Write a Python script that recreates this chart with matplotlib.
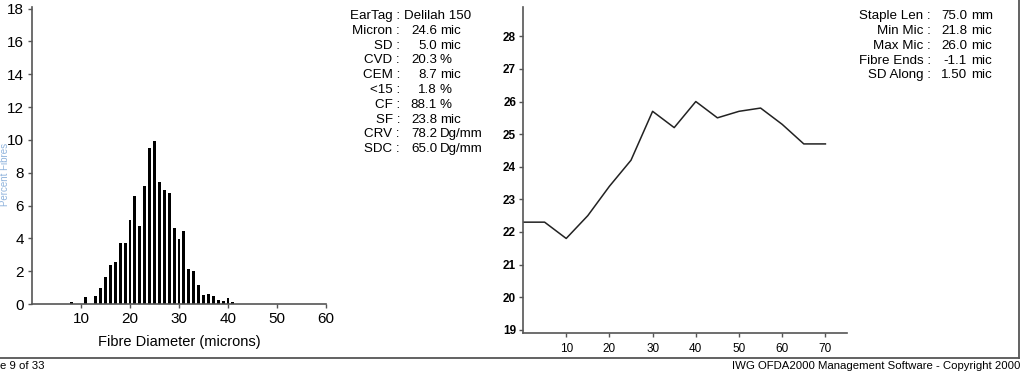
import numpy as np
import matplotlib.pyplot as plt
from matplotlib.lines import Line2D

plt.rcParams['font.family'] = ['Liberation Sans', 'DejaVu Sans']

# fibre diameter histogram (percent of fibres per micron class)
diam_classes = [8, 11, 13, 14, 15, 16, 17, 18, 19, 20, 21, 22, 23, 24, 25,
                26, 27, 28, 29, 30, 31, 32, 33, 34, 35, 36, 37, 38, 39, 40, 41]
diam_percent = [0.14, 0.4, 0.5, 0.95, 1.65, 2.35, 2.55, 3.7, 3.7, 5.1, 6.6,
                4.75, 7.2, 9.5, 9.95, 7.45, 6.95, 6.75, 4.65, 3.95, 4.45,
                2.13, 2.0, 1.18, 0.53, 0.6, 0.5, 0.27, 0.16, 0.38, 0.14]

# diameter along the staple (mm vs micron)
along_mm = [0, 5, 10, 15, 20, 25, 30, 35, 40, 45, 50, 55, 60, 65, 70]
along_mic = [22.3, 22.3, 21.8, 22.5, 23.4, 24.2, 25.7, 25.2, 26.0, 25.5,
             25.7, 25.8, 25.3, 24.7, 24.7]

left_stats = [("EarTag", "Delilah 150", ""),
              ("Micron", "24.6", "mic"),
              ("SD", "5.0", "mic"),
              ("CVD", "20.3", "%"),
              ("CEM", "8.7", "mic"),
              ("<15", "1.8", "%"),
              ("CF", "88.1", "%"),
              ("SF", "23.8", "mic"),
              ("CRV", "78.2", "Dg/mm"),
              ("SDC", "65.0", "Dg/mm")]

right_stats = [("Staple Len", "75.0", "mm"),
               ("Min Mic", "21.8", "mic"),
               ("Max Mic", "26.0", "mic"),
               ("Fibre Ends", "-1.1", "mic"),
               ("SD Along", "1.50", "mic")]

W, H = 1024, 388
fig = plt.figure(figsize=(W / 100, H / 100), dpi=100)

def px(x0, y0, x1, y1):
    # pixel box -> figure fraction rect
    return [x0 / W, 1 - y1 / H, (x1 - x0) / W, (y1 - y0) / H]

spine_col = '#555555'

def style_axes(ax):
    for s in ['top', 'right']:
        ax.spines[s].set_visible(False)
    for s in ['left', 'bottom']:
        ax.spines[s].set_color(spine_col)
        ax.spines[s].set_linewidth(1.2)
    ax.tick_params(direction='out', length=3, width=1, color=spine_col)

# histogram
ax1 = fig.add_axes(px(32, 7, 326, 304))
ax1.bar(diam_classes, diam_percent, width=0.6, color='black')
ax1.set_xlim(0, 60)
ax1.set_ylim(0, 18.1)
ax1.set_xticks([10, 20, 30, 40, 50, 60])
ax1.set_yticks(range(0, 19, 2))
style_axes(ax1)
ax1.tick_params(labelsize=11, pad=3)
ax1.set_xlabel('Fibre Diameter (microns)', fontsize=10.5, labelpad=6)
fig.text(0.5 / W, 0.55, 'Percent Fibres', rotation=90, color='#8fb3dc',
         fontsize=7, ha='left', va='center')

# along-staple profile
ax2 = fig.add_axes(px(523, 7, 847, 333))
ax2.plot(along_mm, along_mic, color='#222222', lw=1.1)
ax2.set_xlim(0, 75)
ax2.set_ylim(18.9, 28.9)
ax2.set_xticks(range(10, 71, 10))
ax2.set_yticks(range(19, 29))
style_axes(ax2)
ax2.tick_params(axis='x', labelsize=8.5, pad=4)
ax2.tick_params(axis='y', labelsize=8.5, pad=2)
for lab in ax2.get_yticklabels():
    lab.set_fontweight('bold')

# stats blocks
def stats_block(rows, colon_x, num_end, unit_x, y0, dy, fs):
    for i, (name, val, unit) in enumerate(rows):
        y = 1 - (y0 + i * dy) / H
        fig.text(colon_x / W, y, name + ' :', ha='right', va='center', fontsize=fs)
        if unit:
            fig.text(num_end / W, y, val, ha='right', va='center', fontsize=fs)
            fig.text(unit_x / W, y, unit, ha='left', va='center', fontsize=fs)
        else:
            fig.text((colon_x + 4) / W, y, val, ha='left', va='center', fontsize=fs)

stats_block(left_stats, 400, 437, 440, 16, 14.8, 9.6)
stats_block(right_stats, 931, 967, 971, 16, 14.85, 9.6)

# page frame and footer
fig.add_artist(Line2D([0, 1019 / W], [1 - 358 / H] * 2, color='#555555', lw=1.3))
fig.add_artist(Line2D([1019 / W] * 2, [1 - 358 / H, 1], color='#555555', lw=1.3))
fig.text(0.0, 1 - 366 / H, 'e 9 of 33', ha='left', va='center', fontsize=8.2)
fig.text(1020 / W, 1 - 366 / H, 'IWG OFDA2000 Management Software - Copyright 2000',
         ha='right', va='center', fontsize=8.2)

fig.savefig('out.png', dpi=100)
